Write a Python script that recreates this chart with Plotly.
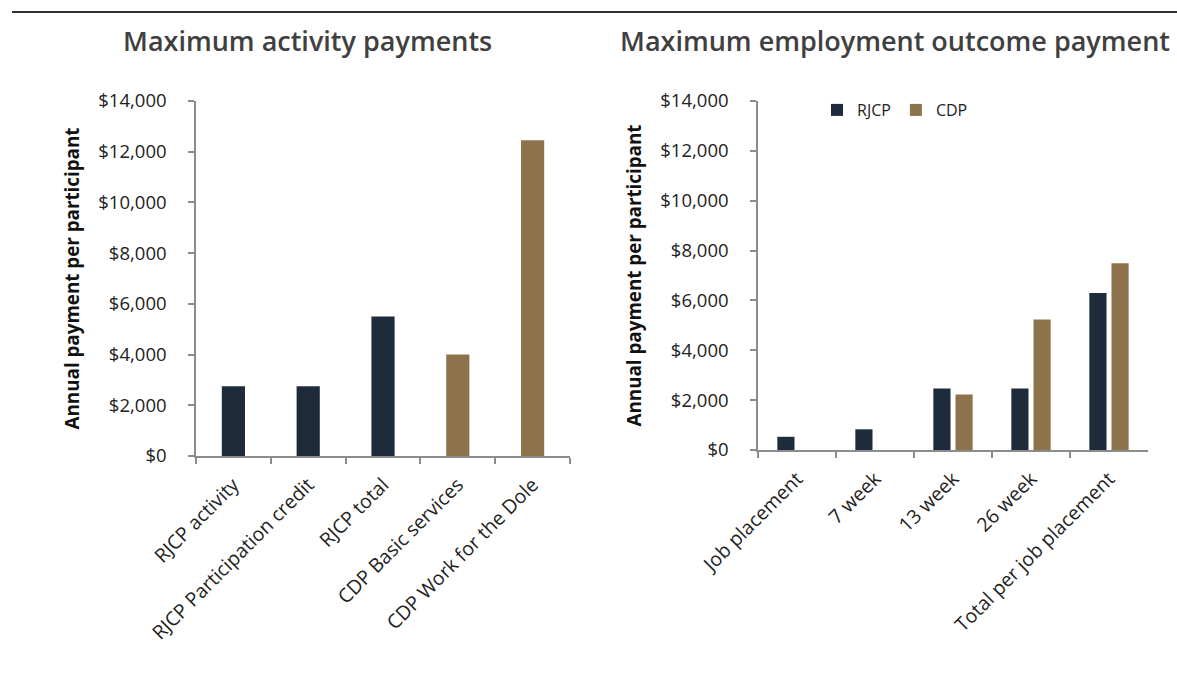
import plotly.graph_objects as go

# Maximum activity payments (left panel)
activity_labels = ["RJCP activity", "RJCP Participation credit", "RJCP total",
                   "CDP Basic services", "CDP Work for the Dole"]
activity_values = [2750, 2750, 5500, 4000, 12450]
activity_programme = ["RJCP", "RJCP", "RJCP", "CDP", "CDP"]

# Maximum employment outcome payment (right panel)
outcome_labels = ["Job placement", "7 week", "13 week", "26 week", "Total per job placement"]
outcome_rjcp = [530, 830, 2470, 2470, 6300]
outcome_cdp = [None, None, 2230, 5230, 7490]

y_ticks = [0, 2000, 4000, 6000, 8000, 10000, 12000, 14000]
y_tick_text = ["${:,}".format(v) for v in y_ticks]

NAVY = "#1E2B3A"
BROWN = "#8C734B"
colour_of = {"RJCP": NAVY, "CDP": BROWN}

W, H = 1177, 677
FONT = "Open Sans"
TXT = "#222222"
AXIS = "#8C8C8C"


def px_x(p):
    return p / W


def px_y(p):
    return 1 - p / H


fig = go.Figure()

fig.add_trace(go.Bar(
    x=activity_labels, y=activity_values,
    marker=dict(color=[colour_of[p] for p in activity_programme], line=dict(width=0)),
    width=0.31, showlegend=False, xaxis="x", yaxis="y",
))

fig.add_trace(go.Bar(
    x=outcome_labels, y=outcome_rjcp, name="RJCP",
    marker=dict(color=NAVY, line=dict(width=0)),
    width=0.22, offset=-0.252, xaxis="x2", yaxis="y2",
))
fig.add_trace(go.Bar(
    x=outcome_labels, y=outcome_cdp, name="CDP",
    marker=dict(color=BROWN, line=dict(width=0)),
    width=0.22, offset=0.032, xaxis="x2", yaxis="y2",
))

common_x = dict(
    type="category", tickson="boundaries", ticks="outside", ticklen=6,
    tickcolor=AXIS, tickwidth=1.5, showline=True, linecolor=AXIS, linewidth=1.5,
    showgrid=False, tickangle=-45, tickfont=dict(family=FONT, size=19.5, color=TXT),
    ticklabelstandoff=8, range=[-0.5, 4.5], fixedrange=True, automargin=False,
)
common_y = dict(
    range=[0, 14000], tickvals=y_ticks, ticktext=y_tick_text,
    ticks="outside", ticklen=6, tickcolor=AXIS, tickwidth=1.5,
    showline=True, linecolor=AXIS, linewidth=1.5, showgrid=False, zeroline=False,
    tickfont=dict(family=FONT, size=18.5, color=TXT), ticklabelstandoff=18,
    automargin=False, fixedrange=True,
    title=dict(text="<b>Annual payment per participant</b>",
               font=dict(family=FONT, size=18.8, color="#111111"), standoff=14),
)

fig.update_layout(
    template="none",
    width=W, height=H,
    margin=dict(l=0, r=0, t=0, b=0, autoexpand=False),
    paper_bgcolor="white", plot_bgcolor="white",
    barmode="overlay",
    xaxis=dict(domain=[px_x(196), px_x(570)], anchor="y", **common_x),
    yaxis=dict(domain=[px_y(456), px_y(101)], anchor="x", **common_y),
    xaxis2=dict(domain=[px_x(758), px_x(1148)], anchor="y2", **common_x),
    yaxis2=dict(domain=[px_y(450), px_y(101)], anchor="x2", **common_y),
    legend=dict(
        orientation="h", x=px_x(817), y=px_y(110), xanchor="left", yanchor="middle",
        font=dict(family=FONT, size=16, color=TXT), itemwidth=30,
        bgcolor="rgba(0,0,0,0)", traceorder="normal",
    ),
    showlegend=True,
)

title_font = dict(family=FONT, size=27, color="#404040", weight=600)
fig.add_annotation(text="Maximum activity payments", x=px_x(307), y=px_y(40),
                   xref="paper", yref="paper", showarrow=False,
                   xanchor="center", yanchor="middle", font=title_font)
fig.add_annotation(text="Maximum employment outcome payment", x=px_x(895), y=px_y(40),
                   xref="paper", yref="paper", showarrow=False,
                   xanchor="center", yanchor="middle", font=title_font)

# rule across the top of the figure
fig.add_shape(type="line", xref="paper", yref="paper",
              x0=px_x(12), x1=1, y0=px_y(12), y1=px_y(12),
              line=dict(color="#333333", width=2))

fig.write_html("out.html")
